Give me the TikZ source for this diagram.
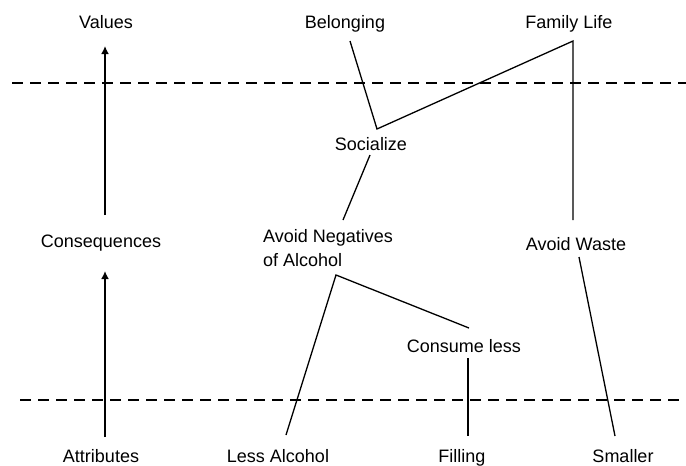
\documentclass[tikz,border=0pt]{standalone}
\usepackage{fontspec}
\setmainfont{Liberation Sans}
\usetikzlibrary{arrows.meta}
\begin{document}
\begin{tikzpicture}[x=1pt,y=-1pt,
  lbl/.style={font=\fontsize{18}{24}\selectfont, inner sep=0pt, anchor=base},
  link/.style={line width=1.3pt},
  levelline/.style={line width=2.9pt, dash pattern=on 11pt off 7pt},
  axisarrow/.style={line width=2.9pt, -{Latex[length=8pt,width=8pt]}}]
\useasboundingbox (0,0) rectangle (686,466);
% labels
\node[lbl] (val) at (106,28) {Values};
\node[lbl] (bel) at (345,28) {Belonging};
\node[lbl] (fam) at (569,28) {Family Life};
\node[lbl] (soc) at (371,150) {Socialize};
\node[lbl] (cons) at (101,247) {Consequences};
\node[lbl, anchor=base west, align=left] (anoa) at (263,266) {Avoid Negatives\\of Alcohol};
\node[lbl] (aw) at (576,250) {Avoid Waste};
\node[lbl] (cl) at (464,352) {Consume less};
\node[lbl] (att) at (101,462) {Attributes};
\node[lbl] (la) at (278,462) {Less Alcohol};
\node[lbl] (fil) at (462,462) {Filling};
\node[lbl] (sm) at (623,462) {Smaller};
% level lines
\coordinate (l1a) at (12,83);  \coordinate (l1b) at (686,83);
\coordinate (l2a) at (20,400); \coordinate (l2b) at (686,400);
\draw[levelline] (l1a) -- (l1b);
\draw[levelline] (l2a) -- (l2b);
% axis arrows
\coordinate (valarr-s) at (105,215); \coordinate (valarr-t) at (105,46);
\coordinate (consarr-s) at (105,437); \coordinate (consarr-t) at (105,271);
\draw[axisarrow] (valarr-s) -- (valarr-t);
\draw[axisarrow] (consarr-s) -- (consarr-t);
% link end points
\coordinate (bel-b) at (350,41);
\coordinate (soc-t) at (377,129);
\coordinate (fam-b) at (573,41);
\coordinate (soc-b) at (370,155);
\coordinate (an-t) at (343,220);
\coordinate (aw-t) at (573,220);
\coordinate (an-b) at (336,275);
\coordinate (la-t) at (286,435);
\coordinate (cl-t) at (469,328);
\coordinate (aw-b) at (579,257);
\coordinate (sm-t) at (615,436);
\coordinate (cl-b) at (468,358);
\coordinate (fil-t) at (468,436);
% links
\draw[link] (bel-b) -- (soc-t) -- (fam-b) -- (aw-t);
\draw[link] (soc-b) -- (an-t);
\draw[link] (la-t) -- (an-b) -- (cl-t);
\draw[link] (aw-b) -- (sm-t);
\draw[link] (cl-b) -- (fil-t);
\end{tikzpicture}
\end{document}
